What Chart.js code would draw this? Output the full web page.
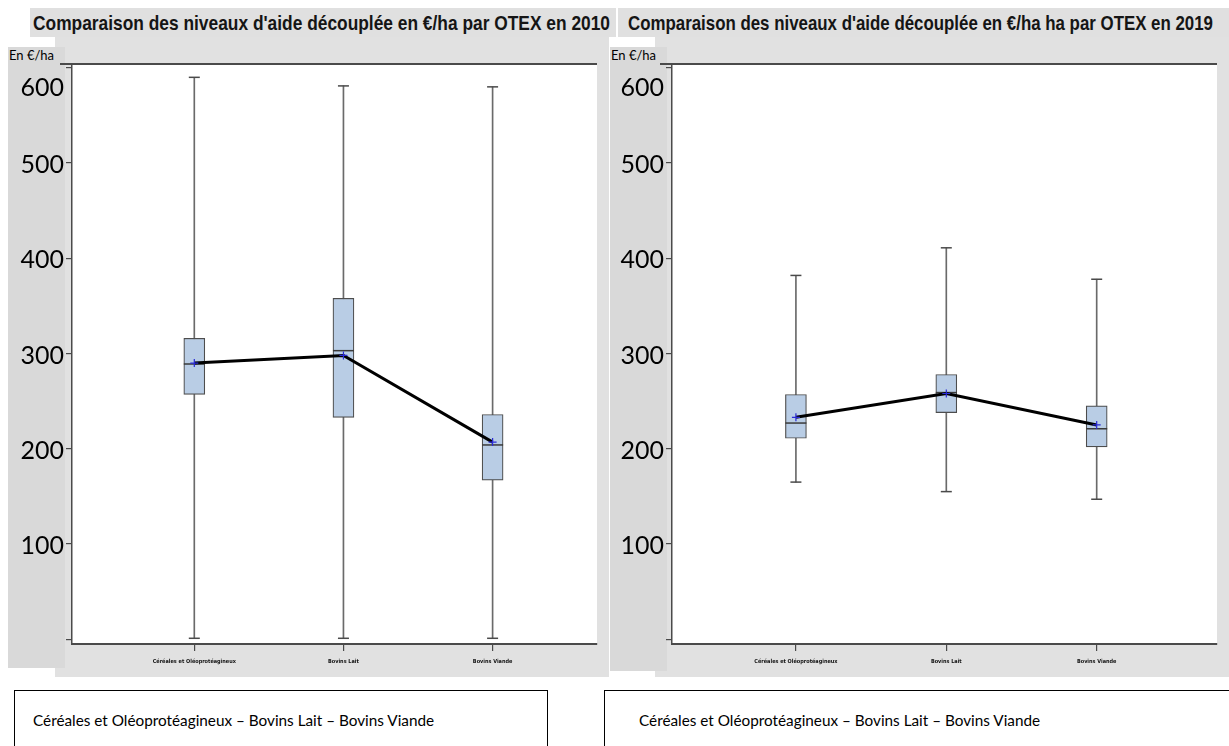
<!DOCTYPE html>
<html><head><meta charset="utf-8">
<script src="https://cdn.jsdelivr.net/npm/chart.js@4.4.0/dist/chart.umd.min.js"></script>
<style>
body{margin:0;width:1229px;height:746px;overflow:hidden;background:#fff;position:relative;font-family:"Open Sans",sans-serif;}
.abs{position:absolute;}
.title{background:#e0e0e0;height:29px;overflow:hidden;}
.title span{display:inline-block;font-family:"Liberation Sans",Arial,sans-serif;font-weight:bold;font-size:21px;line-height:29px;color:#151515;white-space:nowrap;transform-origin:0 50%;}
.frame{background:#e1e1e1;}
.col{background:#d9d9d9;}
.unit{font-family:Lato,sans-serif;font-size:13px;color:#000;white-space:nowrap;}
.legend{border:1.5px solid #000;background:#fff;}
.legend span{position:absolute;left:18px;top:20px;font-family:Lato,sans-serif;font-size:15.3px;color:#000;white-space:nowrap;}
canvas{position:absolute;}
</style></head>
<body>
<div class="abs title" style="left:30px;top:8px;width:586px;"><span id="t1" data-w="577" style="margin-left:3px">Comparaison des niveaux d'aide découplée en €/ha par OTEX en 2010</span></div>
<div class="abs title" style="left:618px;top:8px;width:611px;"><span id="t2" data-w="585" style="margin-left:10px">Comparaison des niveaux d'aide découplée en €/ha ha par OTEX en 2019</span></div>

<div class="abs frame" style="left:55px;top:37px;width:554px;height:640px;"></div>
<div class="abs frame" style="left:655px;top:37px;width:574px;height:640px;"></div>
<div class="abs col" style="left:8px;top:47px;width:57px;height:621px;"></div>
<div class="abs col" style="left:610px;top:47px;width:57px;height:624px;"></div>
<div class="abs unit" style="left:9px;top:47px;">En €/ha</div>
<div class="abs unit" style="left:611px;top:47px;">En €/ha</div>

<canvas id="c1" width="609" height="643" style="left:0;top:37px;"></canvas>
<canvas id="c2" width="629" height="643" style="left:600px;top:37px;"></canvas>

<div class="abs legend" style="left:14px;top:690px;width:532px;height:70px;"><span>Céréales et Oléoprotéagineux – Bovins Lait – Bovins Viande</span></div>
<div class="abs legend" style="left:604px;top:690px;width:640px;height:70px;"><span style="left:34px">Céréales et Oléoprotéagineux – Bovins Lait – Bovins Viande</span></div>

<script>
// ---- data ----
const categories = ['Céréales et Oléoprotéagineux', 'Bovins Lait', 'Bovins Viande'];
const positions = [1, 2, 3];
const yTickValues = [0, 100, 200, 300, 400, 500, 600];
const yTickLabels = ['', '100', '200', '300', '400', '500', ['', '600']];

const min2010 = [1, 1, 1];
const q1_2010 = [257, 233, 167];
const median2010 = [289, 303, 204];
const q3_2010 = [316, 358, 236];
const max2010 = [590, 581, 580];
const mean2010 = [290, 298, 207];

const min2019 = [165, 155, 147];
const q1_2019 = [211, 238, 202];
const median2019 = [227, 259, 221];
const q3_2019 = [257, 278, 245];
const max2019 = [382, 411, 378];
const mean2019 = [233, 258, 225];

// fit titles
document.querySelectorAll('.title span').forEach(s => {
  const w = s.getBoundingClientRect().width;
  const target = +s.dataset.w;
  s.style.transform = 'scaleX(' + (target / w) + ')';
});

const plotBg = {
  id: 'plotBg',
  beforeDraw(chart) {
    const a = chart.chartArea, ctx = chart.ctx;
    ctx.save();
    ctx.fillStyle = '#ffffff';
    ctx.fillRect(a.left, a.top, a.right - a.left, a.bottom - a.top);
    ctx.restore();
  },
  afterDraw(chart) {
    const a = chart.chartArea, ctx = chart.ctx;
    ctx.save();
    ctx.strokeStyle = '#4a4a4a';
    ctx.lineWidth = 2;
    ctx.beginPath();
    ctx.moveTo(a.left - 12, a.top);
    ctx.lineTo(a.right, a.top);
    ctx.stroke();
    ctx.restore();
  }
};

function build(id, mins, q1s, meds, q3s, maxs, means, xmin, xmax) {
  const pts = arr => positions.map((p, i) => ({x: p, y: arr[i]}));
  const range = (a, b) => positions.map((p, i) => ({x: p, y: [a[i], b[i]]}));
  new Chart(document.getElementById(id), {
    type: 'bar',
    data: {
      datasets: [
        {type: 'bar', data: range(mins, maxs), barThickness: 1, backgroundColor: '#6a6a6a',
         borderWidth: 0, grouped: false, order: 6},
        {type: 'bar', data: range(q1s, q3s), barThickness: 21, backgroundColor: '#b9cde5',
         borderColor: '#4d4d4d', borderWidth: 1.2, borderSkipped: false, grouped: false, order: 5},
        {type: 'scatter', data: pts(meds), pointStyle: 'line', pointRadius: 10.5, pointHoverRadius: 10.5,
         borderColor: '#3a3a3a', borderWidth: 1.5, order: 4},
        {type: 'scatter', data: pts(mins).concat(pts(maxs)), pointStyle: 'line', pointRadius: 5.5,
         pointHoverRadius: 5.5, borderColor: '#4a4a4a', borderWidth: 1.5, order: 4},
        {type: 'line', data: pts(means), borderColor: '#000', borderWidth: 3, pointStyle: 'cross',
         pointRadius: 4, pointHoverRadius: 4, pointBorderColor: '#2b2bd6', pointBorderWidth: 1.2,
         fill: false, tension: 0, order: 1}
      ]
    },
    options: {
      responsive: false, animation: false, devicePixelRatio: 1,
      layout: {padding: {left: 0, right: 0, top: 27, bottom: 0}},
      plugins: {legend: {display: false}, tooltip: {enabled: false}, title: {display: false}},
      events: [],
      scales: {
        x: {
          type: 'linear', min: xmin, max: xmax, offset: false,
          afterBuildTicks: s => { s.ticks = positions.map(v => ({value: v})); },
          afterFit: s => { s.height = 36; s.paddingLeft = 0; s.paddingRight = 0; },
          ticks: {
            callback: (v) => categories[positions.indexOf(v)] ?? '',
            font: {family: '"DejaVu Sans Condensed", sans-serif', size: 5.5, weight: 'bold'},
            color: '#111', padding: 7, maxRotation: 0, minRotation: 0, autoSkip: false
          },
          grid: {offset: false, drawOnChartArea: false, drawTicks: true, tickLength: 7, color: '#4a4a4a', lineWidth: 1.2},
          border: {display: true, color: '#4a4a4a', width: 2}
        },
        y: {
          type: 'linear', min: -5, max: 604,
          afterBuildTicks: s => { s.ticks = yTickValues.map(v => ({value: v})); },
          afterFit: s => { s.width = 72; s.paddingTop = 0; s.paddingBottom = 0; },
          ticks: {
            callback: (v) => yTickLabels[yTickValues.indexOf(v)],
            font: {family: 'Lato, sans-serif', size: 25, lineHeight: 1.45},
            color: '#000', padding: 2, autoSkip: false, labelOffset: 2
          },
          grid: {drawOnChartArea: false, drawTicks: true, tickLength: 6, color: '#4a4a4a', lineWidth: 1.2},
          border: {display: true, color: '#4a4a4a', width: 1.5}
        }
      }
    },
    plugins: [plotBg]
  });
}

build('c1', min2010, q1_2010, median2010, q3_2010, max2010, mean2010, 0.18, 3.70);
build('c2', min2019, q1_2019, median2019, q3_2019, max2019, mean2019, 0.176, 3.80);
</script>
</body></html>
